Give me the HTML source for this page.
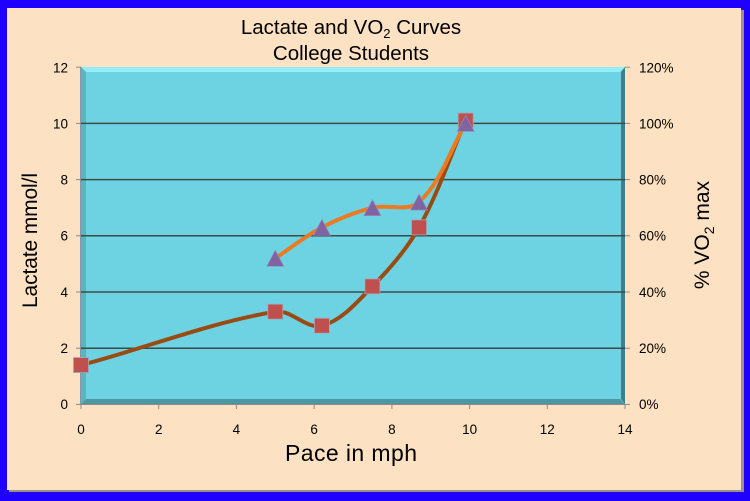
<!DOCTYPE html>
<html><head><meta charset="utf-8"><style>
html,body{margin:0;padding:0;width:750px;height:501px;overflow:hidden;background:#1F00FF;}
svg{display:block;font-family:"Liberation Sans",Arial,sans-serif;}
</style></head><body>
<svg width="750" height="501" viewBox="0 0 750 501" xmlns="http://www.w3.org/2000/svg">
<rect x="0" y="0" width="750" height="501" fill="#1F00FF"/>
<rect x="9" y="10" width="735" height="482" fill="#9C8F86"/>
<rect x="7" y="8" width="734" height="482" fill="#FCE1C2"/>
<!-- plot area bevel -->
<rect x="81" y="67" width="544" height="337" fill="#6DD3E2"/>
<polygon points="81,67 625,67 620,72 86,72" fill="#93EEF7"/>
<polygon points="81,67 86,72 86,399 81,404" fill="#5FB3C0"/>
<polygon points="81,404 86,399 620,399 625,404" fill="#4E96A1"/>
<polygon points="625,67 621,72 621,399 625,404" fill="#3F7F89"/>
<line x1="80.5" y1="67" x2="80.5" y2="404" stroke="#7E9A9E" stroke-width="1"/>
<!-- gridlines -->
<g stroke="#3F4A48" stroke-width="1.5">
<line x1="81" y1="123.4" x2="625" y2="123.4"/>
<line x1="81" y1="179.6" x2="625" y2="179.6"/>
<line x1="81" y1="235.8" x2="625" y2="235.8"/>
<line x1="81" y1="292" x2="625" y2="292"/>
<line x1="81" y1="348.2" x2="625" y2="348.2"/>
</g>
<!-- ticks -->
<g stroke="#8A8A8A" stroke-width="1">
<line x1="76" y1="67.2" x2="81" y2="67.2"/><line x1="76" y1="123.4" x2="81" y2="123.4"/><line x1="76" y1="179.6" x2="81" y2="179.6"/><line x1="76" y1="235.8" x2="81" y2="235.8"/><line x1="76" y1="292" x2="81" y2="292"/><line x1="76" y1="348.2" x2="81" y2="348.2"/><line x1="76" y1="404.4" x2="81" y2="404.4"/>
<line x1="625" y1="67.2" x2="630" y2="67.2"/><line x1="625" y1="123.4" x2="630" y2="123.4"/><line x1="625" y1="179.6" x2="630" y2="179.6"/><line x1="625" y1="235.8" x2="630" y2="235.8"/><line x1="625" y1="292" x2="630" y2="292"/><line x1="625" y1="348.2" x2="630" y2="348.2"/><line x1="625" y1="404.4" x2="630" y2="404.4"/>
<line x1="81" y1="404" x2="81" y2="409"/><line x1="158.7" y1="404" x2="158.7" y2="409"/><line x1="236.4" y1="404" x2="236.4" y2="409"/><line x1="314.1" y1="404" x2="314.1" y2="409"/><line x1="391.9" y1="404" x2="391.9" y2="409"/><line x1="469.6" y1="404" x2="469.6" y2="409"/><line x1="547.3" y1="404" x2="547.3" y2="409"/><line x1="625" y1="404" x2="625" y2="409"/>
<line x1="81" y1="404.5" x2="625" y2="404.5"/>
</g>
<!-- brown lactate curve -->
<path d="M81,365.06 C140,350 209.7,322.4 275.29,311.67 C291.15,309.08 306.35,329.77 321.91,325.72 C342.34,320.4 357.6,301.4 372.43,286.38 C389.86,268.72 406.91,249 419.06,227.37 C437.88,193.89 450.33,155.8 465.69,120.59" fill="none" stroke="#9A4B14" stroke-width="4" stroke-linecap="round" stroke-linejoin="round"/>
<!-- orange VO2 curve -->
<path d="M275.29,258.28 C290.67,248.07 305.54,235.9 321.91,227.37 C337.78,219.1 355.11,212.21 372.43,207.7 C387.43,203.79 407.56,212.48 419.06,202.08 C441.45,181.83 450.3,149.35 465.69,123.4" fill="none" stroke="#EB7B22" stroke-width="4" stroke-linecap="round" stroke-linejoin="round"/>
<!-- squares -->
<g fill="#C0504D" stroke="#A9A6B8" stroke-width="0.8">
<rect x="73.5" y="357.56" width="15" height="15"/>
<rect x="267.79" y="304.17" width="15" height="15"/>
<rect x="314.41" y="318.22" width="15" height="15"/>
<rect x="364.93" y="278.88" width="15" height="15"/>
<rect x="411.56" y="219.87" width="15" height="15"/>
<rect x="458.19" y="113.09" width="15" height="15"/>
</g>
<!-- triangles -->
<g fill="#8064A2" stroke="#9A8AB8" stroke-width="0.6">
<polygon points="275.29,250.28 266.79,266.28 283.79,266.28"/>
<polygon points="321.91,219.37 313.41,235.37 330.41,235.37"/>
<polygon points="372.43,199.7 363.93,215.7 380.93,215.7"/>
<polygon points="419.06,194.08 410.56,210.08 427.56,210.08"/>
<polygon points="465.69,115.4 457.19,131.4 474.19,131.4"/>
</g>
<!-- left tick labels -->
<g font-size="13.5" fill="#000" text-anchor="end">
<text x="68" y="72.5">12</text><text x="68" y="128.5">10</text><text x="68" y="184.5">8</text><text x="68" y="240.5">6</text><text x="68" y="297">4</text><text x="68" y="353">2</text><text x="68" y="409">0</text>
</g>
<!-- right tick labels -->
<g font-size="13.5" fill="#000" text-anchor="start">
<text x="639" y="72.5">120%</text><text x="639" y="128.5">100%</text><text x="639" y="184.5">80%</text><text x="639" y="240.5">60%</text><text x="639" y="297">40%</text><text x="639" y="353">20%</text><text x="639" y="409">0%</text>
</g>
<!-- bottom tick labels -->
<g font-size="13.5" fill="#000" text-anchor="middle">
<text x="81" y="434">0</text><text x="158.7" y="434">2</text><text x="236.4" y="434">4</text><text x="314.1" y="434">6</text><text x="391.9" y="434">8</text><text x="469.6" y="434">10</text><text x="547.3" y="434">12</text><text x="625" y="434">14</text>
</g>
<!-- titles -->
<text x="351" y="34" font-size="20.5" fill="#000" text-anchor="middle">Lactate and VO<tspan font-size="13" dy="4">2</tspan><tspan dy="-4"> Curves</tspan></text>
<text x="351" y="60" font-size="20.5" fill="#000" text-anchor="middle">College Students</text>
<text x="351" y="461" font-size="23" fill="#000" text-anchor="middle" textLength="132">Pace in mph</text>
<text transform="translate(37,240.5) rotate(-90)" font-size="21" fill="#000" text-anchor="middle" textLength="135">Lactate mmol/l</text>
<text transform="translate(709,235) rotate(-90)" font-size="21" fill="#000" text-anchor="middle">% VO<tspan font-size="14" dy="5">2</tspan><tspan dy="-5"> max</tspan></text>
</svg>
</body></html>
